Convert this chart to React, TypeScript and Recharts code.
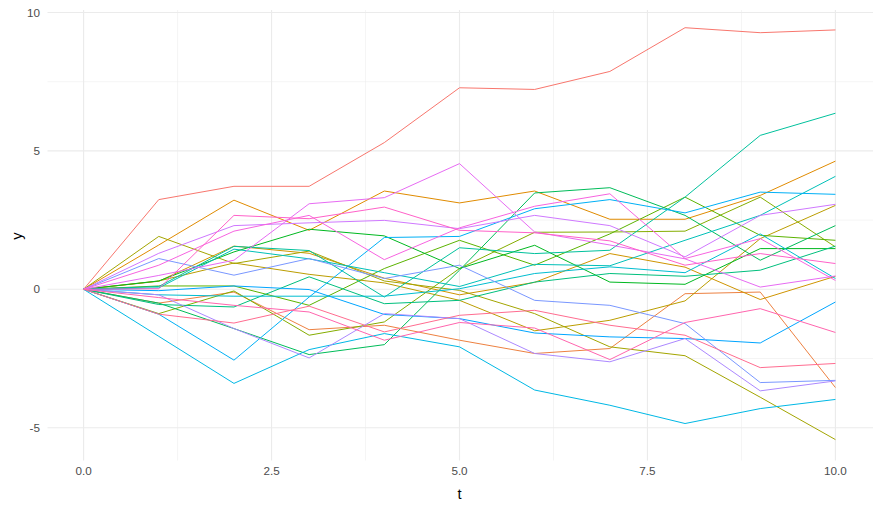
import { Line, LineChart, ReferenceLine, XAxis, YAxis } from "recharts";

// time steps
const tSteps = [0, 1, 2, 3, 4, 5, 6, 7, 8, 9, 10];

// one random walk per group
const g01 = [0, 3.24, 3.72, 3.72, 5.3, 7.28, 7.22, 7.87, 9.45, 9.27, 9.37];
const g02 = [0, -0.5, -0.1, -1.46, -1.3, -1.84, -2.32, -2.14, -0.16, -0.1, -3.55];
const g03 = [0, 1.6, 3.22, 2.13, 3.55, 3.12, 3.55, 2.53, 2.53, 3.39, 4.63];
const g04 = [0, 0.29, 1.56, 1.3, 0.4, -0.2, 0.25, 1.29, 0.8, -0.37, 0.47];
const g05 = [0, 0.3, 0.95, 0.54, 0.23, -0.4, -1.5, -1.12, -0.42, 1.83, 3.03];
const g06 = [0, 1.91, 0.93, 1.38, 0.3, -0.04, -0.88, -2.08, -2.4, -3.9, -5.43];
const g07 = [0, -0.88, -0.06, -1.66, -1.18, 0.75, 2.06, 2.07, 2.1, 3.33, 1.53];
const g08 = [0, 0.12, 0.12, -0.58, 0.75, 1.77, 0.87, 2.0, 3.33, 1.95, 1.77];
const g09 = [0, 0.3, 1.35, 2.17, 1.93, 0.75, 1.59, 0.26, 0.18, 1.47, 1.47];
const g10 = [0, -0.5, -1.42, -2.36, -2.0, 0.69, 3.48, 3.67, 2.67, 1.05, 2.3];
const g11 = [0, -0.55, -0.64, 0.45, -0.52, -0.4, 0.26, 0.57, 0.47, 0.69, 1.56];
const g12 = [0, 0.1, 1.55, 1.4, -0.28, 1.5, 1.29, 1.41, 3.33, 5.56, 6.36];
const g13 = [0, 0.05, 1.45, 1.1, 0.6, 0.1, 0.9, 0.85, 1.77, 2.67, 4.08];
const g14 = [0, -0.2, -0.25, -0.25, -0.25, 0.02, 0.57, 0.81, 0.6, 2.0, 0.39];
const g15 = [0, -1.7, -3.4, -2.18, -1.6, -2.08, -3.64, -4.19, -4.85, -4.31, -3.98];
const g16 = [0, -0.9, -2.56, -0.28, 1.87, 1.91, 2.91, 3.24, 2.76, 3.51, 3.43];
const g17 = [0, -0.05, 0.12, -0.01, -0.91, -1.06, -1.58, -1.72, -1.78, -1.94, -0.46];
const g18 = [0, 1.11, 0.51, 1.11, 0.39, 0.87, -0.4, -0.58, -1.24, -3.37, -3.29];
const g19 = [0, -0.2, -1.42, -2.48, -0.88, -1.06, -2.32, -2.62, -1.78, -3.67, -3.31];
const g20 = [0, 1.3, 2.3, 2.4, 2.49, 2.19, 2.67, 2.3, 1.17, 2.67, 3.07];
const g21 = [0, 0.5, 1.05, 3.09, 3.31, 4.54, 2.07, 1.6, 1.1, 0.08, 0.48];
const g22 = [0, 0.87, 2.1, 2.67, 1.07, 2.22, 3.0, 3.45, 1.11, 1.83, 0.32];
const g23 = [0, 0.02, 2.67, 2.55, 2.97, 2.13, 2.04, 1.75, 0.87, 1.29, 0.93];
const g24 = [0, -0.3, -0.58, -0.82, -1.84, -1.2, -1.4, -2.54, -1.2, -0.7, -1.56];
const g25 = [0, -0.9, -1.22, -0.61, -1.54, -0.94, -0.76, -1.3, -1.66, -2.83, -2.68];

const groups = [
  g01, g02, g03, g04, g05, g06, g07, g08, g09, g10, g11, g12, g13,
  g14, g15, g16, g17, g18, g19, g20, g21, g22, g23, g24, g25,
];

const xTicks = [0, 2.5, 5, 7.5, 10];
const yTicks = [-5, 0, 5, 10];
const xMinor = [1.25, 3.75, 6.25, 8.75];
const yMinor = [-2.5, 2.5, 7.5];

// ggplot2 default hue palette: hcl(h, c = 100, l = 65)
const hcl = (h: number, c = 100, l = 65) => {
  const hr = (h * Math.PI) / 180;
  const u = c * Math.cos(hr);
  const v = c * Math.sin(hr);
  const Y = Math.pow((l + 16) / 116, 3);
  const un = 0.19783, vn = 0.46832;
  const up = u / (13 * l) + un;
  const vp = v / (13 * l) + vn;
  const X = (Y * 9 * up) / (4 * vp);
  const Z = (Y * (12 - 3 * up - 20 * vp)) / (4 * vp);
  const lin = [
    3.2406 * X - 1.5372 * Y - 0.4986 * Z,
    -0.9689 * X + 1.8758 * Y + 0.0415 * Z,
    0.0557 * X - 0.204 * Y + 1.057 * Z,
  ];
  return (
    "#" +
    lin
      .map((x) => {
        const g = x <= 0.0031308 ? 12.92 * x : 1.055 * Math.pow(x, 1 / 2.4) - 0.055;
        const n = Math.round(Math.min(1, Math.max(0, g)) * 255);
        return n.toString(16).padStart(2, "0");
      })
      .join("")
  );
};

const colors = groups.map((_, i) => hcl(15 + (360 * i) / groups.length));

const data = tSteps.map((t, i) => {
  const row: Record<string, number> = { t };
  groups.forEach((g, k) => {
    row[`g${k + 1}`] = g[i];
  });
  return row;
});

const X_DOMAIN: [number, number] = [-0.5, 10.5];
const Y_DOMAIN: [number, number] = [-6.24, 10.09];

const FONT = "Liberation Sans, Arial, sans-serif";
const tickStyle = { fill: "#4D4D4D", fontSize: 11.7, fontFamily: FONT };
const noLine = { stroke: "none", strokeWidth: 0 };

const YTitle = ({ viewBox }: any) => {
  const cy = viewBox.y + viewBox.height / 2;
  return (
    <text
      x={17}
      y={cy}
      transform={`rotate(-90, 17, ${cy})`}
      textAnchor="middle"
      dominantBaseline="central"
      fontSize={14.7}
      fontFamily={FONT}
      fill="#000"
    >
      y
    </text>
  );
};

export default function App() {
  return (
    <div style={{ position: "absolute", left: 0, top: 0, background: "#fff" }}>
      <LineChart
        width={880}
        height={506}
        data={data}
        margin={{ top: 10, right: 7, left: 0, bottom: 0 }}
      >
        {xMinor.map((v) => (
          <ReferenceLine key={`vx${v}`} x={v} stroke="#EBEBEB" strokeWidth={0.55} ifOverflow="hidden" />
        ))}
        {yMinor.map((v) => (
          <ReferenceLine key={`hy${v}`} y={v} stroke="#EBEBEB" strokeWidth={0.55} ifOverflow="hidden" />
        ))}
        {xTicks.map((v) => (
          <ReferenceLine key={`VX${v}`} x={v} stroke="#EBEBEB" strokeWidth={1.1} ifOverflow="hidden" />
        ))}
        {yTicks.map((v) => (
          <ReferenceLine key={`HY${v}`} y={v} stroke="#EBEBEB" strokeWidth={1.1} ifOverflow="hidden" />
        ))}
        <XAxis
          dataKey="t"
          type="number"
          domain={X_DOMAIN}
          ticks={xTicks}
          allowDataOverflow
          tickFormatter={(v: number) => v.toFixed(1)}
          axisLine={noLine}
          tickLine={false}
          tickSize={0}
          tickMargin={5}
          height={44}
          tick={tickStyle}
          label={{
            value: "t",
            position: "insideBottom",
            offset: 7,
            fill: "#000",
            fontSize: 14.7,
            fontFamily: FONT,
          }}
        />
        <YAxis
          type="number"
          domain={Y_DOMAIN}
          ticks={yTicks}
          allowDataOverflow
          axisLine={noLine}
          tickLine={false}
          tickSize={0}
          tickMargin={6}
          width={46}
          tick={tickStyle}
          label={<YTitle />}
        />
        {groups.map((_, k) => (
          <Line
            key={k}
            type="linear"
            dataKey={`g${k + 1}`}
            stroke={colors[k]}
            strokeWidth={1}
            dot={false}
            activeDot={false}
            isAnimationActive={false}
          />
        ))}
        {/* mask anything drawn on the panel border */}
        <ReferenceLine x={X_DOMAIN[0]} stroke="#fff" strokeWidth={3} ifOverflow="visible" />
        <ReferenceLine y={Y_DOMAIN[0]} stroke="#fff" strokeWidth={3} ifOverflow="visible" />
      </LineChart>
    </div>
  );
}
